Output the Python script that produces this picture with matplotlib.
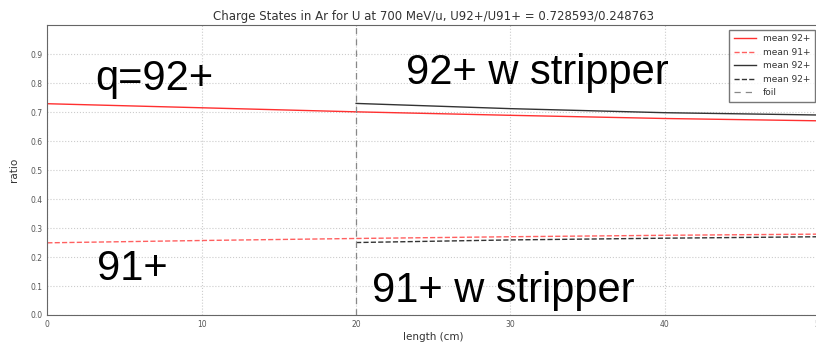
import matplotlib
matplotlib.use("Agg")
import matplotlib.pyplot as plt

# lengths (cm) and charge-state fractions
length = [0, 10, 20, 30, 40, 50]
mean_92 = [0.729, 0.715, 0.701, 0.689, 0.678, 0.670]
mean_91 = [0.249, 0.257, 0.264, 0.270, 0.275, 0.279]

length_strip = [20, 30, 40, 50]
strip_92 = [0.730, 0.712, 0.698, 0.690]
strip_91 = [0.250, 0.259, 0.265, 0.270]

foil_at = 20
yticks = [0.0, 0.1, 0.2, 0.3, 0.4, 0.5, 0.6, 0.7, 0.8, 0.9]
xticks = [0, 10, 20, 30, 40, 50]

fig = plt.figure(figsize=(8.16, 3.45), dpi=100)
ax = fig.add_axes([0.058, 0.087, 0.946, 0.84])

ax.plot(length, mean_92, color="#ff3030", lw=1.0, label="mean 92+")
ax.plot(length, mean_91, color="#ff6060", lw=1.0, ls="--", label="mean 91+")
ax.plot(length_strip, strip_92, color="#333333", lw=1.0, label="mean 92+")
ax.plot(length_strip, strip_91, color="#333333", lw=1.0, ls="--", label="mean 92+")
ax.axvline(foil_at, color="#888888", lw=0.9, ls=(0, (5, 4)), label="foil")

ax.set_xlim(0, 50)
ax.set_ylim(0, 1.0)
ax.set_xticks(xticks)
ax.set_yticks(yticks)
ax.set_yticklabels([f"{v:.1f}" for v in yticks])
ax.tick_params(labelsize=5.5, colors="#555555", length=0)
ax.grid(True, ls=":", color="#cccccc", lw=0.8)
for s in ax.spines.values():
    s.set_color("#666666")

ax.set_title("Charge States in Ar for U at 700 MeV/u, U92+/U91+ = 0.728593/0.248763",
             fontsize=8.5, color="#333333", pad=4)
ax.set_xlabel("length (cm)", fontsize=7.5, color="#333333", labelpad=2)
ax.set_ylabel("ratio", fontsize=7.5, color="#333333", labelpad=8)

ax.legend(loc="upper right", fontsize=6.5, frameon=True, fancybox=False,
          edgecolor="#555555", handlelength=2.4, borderpad=0.5,
          labelspacing=0.5, labelcolor="#333333")

big = dict(fontsize=30, family="Liberation Sans", color="black", va="baseline")
ax.text(3.1, 0.778, "q=92+", **big)
ax.text(23.25, 0.796, "92+ w stripper", **big)
ax.text(3.2, 0.119, "91+", **big)
ax.text(21.0, 0.046, "91+ w stripper", **big)

fig.savefig("out.png", dpi=100)
